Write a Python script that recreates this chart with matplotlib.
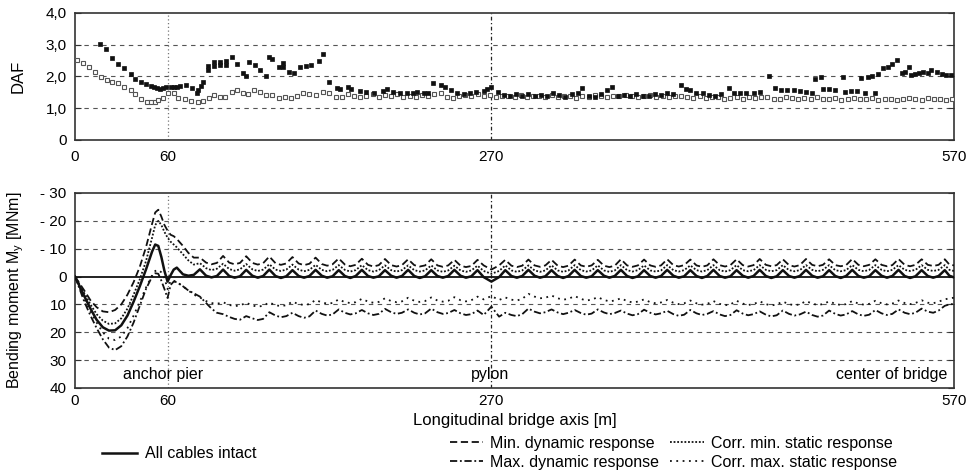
import matplotlib.pyplot as plt

plt.rcParams['font.family'] = ['Liberation Sans', 'DejaVu Sans']
plt.rcParams['mathtext.default'] = 'regular'

# ---- DAF (top panel) ----
daf_dyn_x = [16, 20, 24, 28, 32, 36, 39, 43, 46, 49, 51, 53, 55, 57, 59, 62, 64, 66, 68, 72,
             76, 79, 80, 82, 83, 86, 86, 90, 90, 94, 94, 98, 98, 102, 105, 109, 111, 113, 117, 120,
             124, 126, 128, 132, 135, 135, 139, 142, 146, 150, 153, 158, 161, 165, 170, 172, 177, 179, 185, 189,
             194, 200, 202, 206, 211, 215, 219, 222, 226, 229, 232, 237, 240, 244, 248, 252, 256, 260, 265, 267,
             270, 274, 278, 282, 286, 290, 294, 298, 302, 306, 310, 314, 318, 322, 326, 329, 333, 337, 341, 345,
             348, 352, 356, 360, 364, 368, 372, 376, 380, 384, 388, 393, 396, 399, 403, 407, 411, 415, 419, 424,
             427, 431, 435, 440, 444, 450, 454, 458, 462, 466, 470, 474, 478, 480, 484, 485, 489, 493, 498, 499,
             503, 507, 510, 512, 514, 517, 519, 521, 524, 527, 530, 533, 536, 538, 541, 542, 545, 547, 550, 553,
             555, 559, 562, 565, 568]
daf_dyn = [3.02, 2.86, 2.59, 2.39, 2.26, 2.08, 1.92, 1.82, 1.75, 1.70, 1.66, 1.63, 1.61, 1.63, 1.66, 1.68, 1.68, 1.68, 1.70, 1.73,
           1.63, 1.49, 1.57, 1.70, 1.82, 2.20, 2.33, 2.33, 2.46, 2.35, 2.47, 2.37, 2.48, 2.62, 2.38, 2.10, 2.00, 2.47, 2.36, 2.20,
           2.02, 2.62, 2.54, 2.31, 2.41, 2.29, 2.15, 2.10, 2.29, 2.34, 2.36, 2.50, 2.71, 1.84, 1.63, 1.60, 1.68, 1.60, 1.55, 1.52,
           1.49, 1.55, 1.60, 1.52, 1.47, 1.47, 1.47, 1.52, 1.49, 1.47, 1.80, 1.73, 1.66, 1.57, 1.49, 1.45, 1.49, 1.52, 1.55, 1.60,
           1.68, 1.52, 1.42, 1.40, 1.44, 1.38, 1.45, 1.40, 1.43, 1.37, 1.47, 1.42, 1.36, 1.44, 1.48, 1.63, 1.40, 1.36, 1.45, 1.57,
           1.66, 1.40, 1.43, 1.38, 1.45, 1.40, 1.37, 1.44, 1.42, 1.47, 1.45, 1.73, 1.62, 1.57, 1.48, 1.47, 1.43, 1.40, 1.45, 1.63,
           1.49, 1.47, 1.49, 1.47, 1.52, 2.00, 1.63, 1.57, 1.57, 1.57, 1.55, 1.52, 1.49, 1.91, 1.97, 1.60, 1.60, 1.57, 1.97, 1.52,
           1.55, 1.55, 1.94, 1.49, 1.97, 2.02, 1.47, 2.08, 2.26, 2.31, 2.40, 2.52, 2.10, 2.15, 2.29, 2.05, 2.08, 2.10, 2.15, 2.12,
           2.21, 2.15, 2.08, 2.05, 2.05]

daf_stat_x = [1, 5, 9, 13, 17, 21, 24, 28, 32, 36, 39, 43, 47, 49, 52, 54, 57, 60, 64, 67,
              71, 75, 80, 83, 87, 90, 94, 97, 102, 105, 109, 112, 116, 120, 124, 128, 132, 136, 140, 144,
              148, 152, 156, 161, 165, 169, 173, 177, 181, 185, 189, 193, 197, 201, 205, 209, 213, 217, 221, 225,
              229, 233, 237, 241, 245, 249, 253, 257, 261, 265, 269, 273, 277, 281, 285, 289, 293, 297, 301, 305,
              309, 313, 317, 321, 325, 329, 333, 337, 341, 345, 349, 353, 357, 361, 365, 369, 373, 377, 381, 385,
              389, 393, 397, 401, 405, 409, 413, 417, 421, 425, 429, 433, 437, 441, 445, 449, 453, 457, 461, 465,
              469, 473, 477, 481, 485, 489, 493, 497, 501, 505, 509, 513, 517, 521, 525, 529, 533, 537, 541, 545,
              549, 553, 557, 561, 565, 569]
daf_stat = [2.52, 2.41, 2.29, 2.15, 1.99, 1.89, 1.84, 1.78, 1.68, 1.57, 1.44, 1.28, 1.21, 1.19, 1.21, 1.26, 1.33, 1.49, 1.49, 1.31,
            1.28, 1.24, 1.21, 1.24, 1.31, 1.42, 1.36, 1.36, 1.52, 1.57, 1.47, 1.45, 1.57, 1.50, 1.42, 1.42, 1.31, 1.34, 1.31, 1.40,
            1.47, 1.45, 1.42, 1.52, 1.49, 1.36, 1.34, 1.45, 1.40, 1.36, 1.40, 1.45, 1.34, 1.42, 1.38, 1.45, 1.36, 1.40, 1.34, 1.42,
            1.38, 1.45, 1.47, 1.36, 1.33, 1.40, 1.42, 1.38, 1.45, 1.40, 1.42, 1.36, 1.40, 1.38, 1.36, 1.42, 1.34, 1.40, 1.38, 1.36,
            1.42, 1.35, 1.40, 1.38, 1.33, 1.40, 1.36, 1.42, 1.38, 1.34, 1.40, 1.37, 1.42, 1.40, 1.35, 1.38, 1.42, 1.36, 1.40, 1.34,
            1.38, 1.40, 1.36, 1.33, 1.38, 1.33, 1.36, 1.35, 1.30, 1.33, 1.36, 1.30, 1.34, 1.32, 1.36, 1.34, 1.29, 1.30, 1.34, 1.31,
            1.29, 1.33, 1.30, 1.34, 1.28, 1.30, 1.33, 1.27, 1.30, 1.32, 1.28, 1.30, 1.32, 1.27, 1.28, 1.30, 1.26, 1.30, 1.32, 1.28,
            1.27, 1.31, 1.29, 1.30, 1.27, 1.30]

# ---- bending moment (bottom panel) ----
my_x = [0, 3, 6, 10, 14, 18, 22, 26, 30, 34, 38, 42, 46, 50, 52, 54, 56, 58, 60, 62, 64,
        66, 70, 73.5, 77, 81, 85, 88.5, 92, 96, 100, 103.5, 107, 111, 115, 118.5, 122,
        126, 130, 133.5, 137, 141, 145, 148.5, 152, 156, 160, 163.5, 167, 171, 175, 178.5, 182,
        186, 190, 193.5, 197, 201, 205, 208.5, 212, 216, 220, 223.5, 227, 231, 235, 238.5, 242,
        246, 250, 253.5, 257,
        261, 265, 270, 275,
        279, 283, 286.5, 290, 294, 298, 301.5, 305, 309, 313, 316.5, 320, 324, 328, 331.5, 335,
        339, 343, 346.5, 350, 354, 358, 361.5, 365, 369, 373, 376.5, 380, 384, 388, 391.5, 395,
        399, 403, 406.5, 410, 414, 418, 421.5, 425, 429, 433, 436.5, 440, 444, 448, 451.5, 455,
        459, 463, 466.5, 470, 474, 478, 481.5, 485, 489, 493, 496.5, 500, 504, 508, 511.5, 515,
        519, 523, 526.5, 530, 534, 538, 541.5, 545, 549, 553, 556.5, 560,
        564, 567, 570]

my_intact = [0, 3.5, 7, 11.5, 15.5, 18.2, 19.4, 19.3, 17.5, 14.0, 9.0, 3.5, -2.5, -9.0, -11.5, -11.0, -7.0, -2.0, 1.8, -0.5, -2.5,
             -3.2, -0.8, -0.3, -0.6, -2.6, -0.3, 0.3, -0.2, -2.5, -0.2, 0.4, -0.1, -2.4, -0.3, 0.4, -0.2,
             -2.5, -0.2, 0.5, -0.1, -2.3, -0.2, 0.4, -0.2, -2.4, -0.3, 0.4, -0.1, -2.3, -0.2, 0.5, -0.2,
             -2.4, -0.2, 0.4, -0.1, -2.3, -0.3, 0.4, -0.2, -2.4, -0.2, 0.5, -0.1, -2.3, -0.2, 0.4, -0.2,
             -2.4, -0.3, 0.4, -0.1,
             -2.3, 0.2, 1.8, 0.2,
             -2.3, -0.2, 0.4, -0.2, -2.4, -0.3, 0.4, -0.1, -2.3, -0.2, 0.5, -0.2, -2.4, -0.2, 0.4, -0.1,
             -2.3, -0.3, 0.4, -0.2, -2.4, -0.2, 0.5, -0.1, -2.3, -0.2, 0.4, -0.2, -2.4, -0.3, 0.4, -0.1,
             -2.3, -0.2, 0.5, -0.2, -2.4, -0.2, 0.4, -0.1, -2.3, -0.3, 0.4, -0.2, -2.4, -0.2, 0.5, -0.1,
             -2.3, -0.2, 0.4, -0.2, -2.4, -0.3, 0.4, -0.1, -2.3, -0.2, 0.5, -0.2, -2.4, -0.2, 0.4, -0.1,
             -2.3, -0.3, 0.4, -0.2, -2.4, -0.2, 0.5, -0.1, -2.3, -0.2, 0.4, -0.2,
             -2.3, -0.3, 0.3]

my_min_dyn = [0, 2.5, 5.0, 8.5, 11.0, 12.5, 12.8, 12.0, 10.0, 6.5, 2.0, -3.5, -10.5, -19.0, -23.0, -24.0, -21.5, -18.5, -16.5, -15.0, -14.5,
              -13.5, -11.0, -8.5, -6.8, -6.8, -5.0, -4.4, -4.9, -7.4, -5.0, -4.4, -4.9, -7.3, -4.9, -4.3, -4.8,
              -7.2, -4.8, -4.2, -4.7, -7.0, -4.7, -4.1, -4.6, -6.8, -4.5, -3.9, -4.4, -6.5, -4.3, -3.7, -4.2,
              -6.4, -4.2, -3.6, -4.1, -6.3, -4.1, -3.6, -4.1, -6.2, -4.1, -3.6, -4.0, -6.2, -4.0, -3.5, -4.0,
              -6.0, -3.9, -3.4, -3.8,
              -6.0, -4.0, -2.5, -4.0,
              -6.0, -3.9, -3.4, -3.9, -6.1, -4.0, -3.5, -4.0, -6.0, -3.9, -3.4, -3.9, -6.1, -4.0, -3.5, -4.0,
              -6.0, -3.9, -3.4, -3.9, -6.2, -4.0, -3.5, -4.0, -6.1, -4.0, -3.5, -4.0, -6.2, -4.1, -3.6, -4.1,
              -6.1, -4.0, -3.5, -4.0, -6.2, -4.1, -3.6, -4.1, -6.2, -4.1, -3.6, -4.1, -6.3, -4.2, -3.7, -4.1,
              -6.2, -4.1, -3.6, -4.1, -6.3, -4.2, -3.7, -4.2, -6.2, -4.1, -3.7, -4.1, -6.3, -4.2, -3.7, -4.2,
              -6.2, -4.2, -3.7, -4.1, -6.3, -4.2, -3.7, -4.2, -6.2, -4.2, -3.8, -4.2,
              -6.2, -4.3, -4.0]

my_corr_min = [0, 3.0, 6.0, 10.0, 13.5, 15.8, 17.0, 16.8, 15.0, 11.5, 6.5, 1.0, -5.5, -14.0, -18.5, -20.0, -18.5, -16.0, -14.0, -12.5, -11.5,
               -10.5, -8.0, -5.8, -4.3, -4.8, -3.0, -2.3, -2.8, -4.6, -2.7, -2.1, -2.6, -4.5, -2.6, -2.0, -2.5,
               -4.4, -2.5, -2.0, -2.5, -4.3, -2.5, -1.9, -2.4, -4.2, -2.4, -1.9, -2.4, -4.1, -2.4, -1.8, -2.3,
               -4.1, -2.3, -1.8, -2.3, -4.0, -2.3, -1.8, -2.3, -4.0, -2.3, -1.8, -2.2, -4.0, -2.2, -1.7, -2.2,
               -3.9, -2.2, -1.7, -2.2,
               -3.9, -2.0, -1.0, -2.0,
               -4.0, -2.2, -1.7, -2.2, -4.0, -2.2, -1.7, -2.2, -4.0, -2.2, -1.7, -2.2, -4.1, -2.3, -1.8, -2.2,
               -4.0, -2.2, -1.7, -2.2, -4.1, -2.3, -1.8, -2.3, -4.0, -2.2, -1.8, -2.2, -4.1, -2.3, -1.8, -2.3,
               -4.0, -2.3, -1.8, -2.3, -4.1, -2.3, -1.8, -2.3, -4.1, -2.3, -1.9, -2.3, -4.1, -2.4, -1.9, -2.3,
               -4.1, -2.3, -1.9, -2.3, -4.1, -2.4, -1.9, -2.4, -4.1, -2.3, -1.9, -2.3, -4.1, -2.4, -1.9, -2.4,
               -4.1, -2.4, -1.9, -2.4, -4.1, -2.4, -2.0, -2.4, -4.1, -2.4, -2.0, -2.4,
               -4.1, -2.4, -2.0]

my_corr_max = [0, 4.0, 8.0, 12.5, 16.5, 20.0, 22.3, 22.8, 21.5, 18.5, 14.0, 9.0, 4.0, -0.5, -2.0, -2.4, -1.5, 0.5, 4.5, 1.5, 1.5,
               2.0, 3.5, 5.0, 6.5, 7.5, 8.8, 9.5, 9.8, 9.2, 10.2, 10.6, 10.4, 9.4, 10.4, 10.8, 10.5,
               9.3, 10.3, 10.6, 10.3, 9.0, 9.9, 10.2, 9.9, 8.4, 9.3, 9.7, 9.5, 8.2, 9.2, 9.5, 9.2,
               8.0, 9.0, 9.4, 9.1, 7.8, 8.8, 9.2, 8.9, 7.6, 8.7, 9.1, 8.8, 7.5, 8.6, 9.0, 8.7,
               7.4, 8.5, 8.9, 8.5,
               7.2, 8.2, 7.0, 8.4,
               7.5, 8.3, 8.6, 8.0, 6.2, 7.2, 7.8, 7.6, 6.8, 7.8, 8.3, 8.0, 7.0, 8.0, 8.6, 8.3,
               7.4, 8.4, 8.9, 8.6, 7.8, 8.8, 9.3, 9.0, 8.2, 9.2, 9.6, 9.3, 8.4, 9.4, 9.9, 9.6,
               8.6, 9.6, 10.1, 9.8, 8.8, 9.8, 10.3, 10.0, 8.7, 9.7, 10.2, 9.9, 8.9, 9.9, 10.4, 10.0,
               9.0, 9.9, 10.3, 10.0, 8.8, 9.7, 10.2, 9.9, 8.9, 9.8, 10.2, 9.9, 8.8, 9.7, 10.1, 9.8,
               8.7, 9.6, 10.0, 9.7, 8.6, 9.5, 9.9, 9.5, 8.5, 9.4, 9.6, 9.0,
               8.2, 7.8, 7.6]

my_max_dyn = [0, 4.5, 9.0, 14.0, 18.5, 22.5, 25.5, 26.4, 25.0, 21.5, 16.5, 10.5, 4.5, 0.0, -1.2, -1.0, 1.5, 4.5, 7.7, 3.0, 1.8,
              2.0, 3.5, 5.0, 6.0, 7.2, 9.5, 11.5, 13.0, 13.5, 14.5, 15.2, 15.5, 14.2, 15.0, 15.6, 15.2,
              12.8, 14.0, 14.6, 14.2, 13.0, 14.2, 14.8, 14.3, 12.2, 13.4, 14.0, 13.6, 11.8, 13.0, 13.6, 13.2,
              12.0, 13.2, 13.8, 13.4, 11.6, 12.8, 13.4, 13.0, 11.8, 13.0, 13.6, 13.2, 11.5, 12.8, 13.4, 13.1,
              12.0, 13.2, 13.8, 13.5,
              12.2, 13.8, 10.8, 14.4,
              13.0, 13.8, 14.2, 13.5, 11.5, 12.6, 13.2, 12.8, 11.8, 12.9, 13.5, 13.0, 12.0, 13.1, 13.7, 13.3,
              11.8, 12.9, 13.5, 13.1, 12.2, 13.3, 13.9, 13.5, 11.9, 13.0, 13.6, 13.2, 12.3, 13.5, 14.1, 13.7,
              12.0, 13.2, 13.8, 13.4, 12.4, 13.6, 14.2, 13.8, 12.1, 13.3, 13.9, 13.5, 12.5, 13.7, 14.3, 13.9,
              12.2, 13.4, 14.0, 13.6, 12.6, 13.8, 14.4, 14.0, 12.2, 13.4, 14.0, 13.6, 12.4, 13.6, 14.1, 13.7,
              12.0, 13.2, 13.8, 13.4, 11.8, 13.0, 13.5, 13.0, 11.5, 12.6, 13.0, 12.2,
              10.5, 10.0, 9.8]

x_ticks = [0, 60, 270, 570]
daf_ticks = [0, 1, 2, 3, 4]
daf_labels = ['0', '1,0', '2,0', '3,0', '4,0']
my_ticks = [-30, -20, -10, 0, 10, 20, 30, 40]
my_labels = ['- 30', '- 20', '- 10', '0', '10', '20', '30', '40']

grid_col = '#555555'
spine_col = '#333333'

fig = plt.figure(figsize=(9.73, 4.75), dpi=100)
ax1 = fig.add_axes([0.0771, 0.7053, 0.9034, 0.2674])
ax2 = fig.add_axes([0.0771, 0.1832, 0.9034, 0.4105])

# top panel
for v in [1, 2, 3]:
    ax1.axhline(v, color=grid_col, lw=0.8, ls=(0, (4, 4)), zorder=1)
ax1.axvline(60, color='#777777', lw=0.9, ls=(0, (1, 2)), zorder=1)
ax1.axvline(270, color='#222222', lw=0.9, ls=(0, (3, 2, 1, 2)), zorder=1)
ax1.plot(daf_stat_x, daf_stat, ls='none', marker='s', ms=3.5, mfc='white', mec='#555555', mew=0.8, zorder=3)
ax1.plot(daf_dyn_x, daf_dyn, ls='none', marker='s', ms=3.3, mfc='#111111', mec='#111111', mew=0.5, zorder=4)
ax1.set_xlim(0, 570)
ax1.set_ylim(0, 4)
ax1.set_xticks(x_ticks)
ax1.set_xticklabels([str(t) for t in x_ticks])
ax1.set_yticks(daf_ticks)
ax1.set_yticklabels(daf_labels)
ax1.tick_params(axis='x', length=0, pad=7, labelsize=11)
ax1.tick_params(axis='y', direction='in', length=4, right=True, labelsize=11, pad=6, color=spine_col)
ax1.set_ylabel('DAF', fontsize=12)
ax1.yaxis.set_label_coords(-0.056, 0.5)

# bottom panel
for v in [-20, -10, 10, 20, 30]:
    ax2.axhline(v, color=grid_col, lw=0.8, ls=(0, (4, 4)), zorder=1)
ax2.axhline(0, color='#111111', lw=1.3, zorder=2)
ax2.axvline(60, color='#777777', lw=0.9, ls=(0, (1, 2)), zorder=1)
ax2.axvline(270, color='#222222', lw=0.9, ls=(0, (3, 2, 1, 2)), zorder=1)

ax2.plot(my_x, my_min_dyn, color='#111111', lw=1.3, ls=(0, (4, 2)), label='Min. dynamic response', zorder=3)
ax2.plot(my_x, my_max_dyn, color='#111111', lw=1.3, ls=(0, (4, 1.5, 1, 1.5)), label='Max. dynamic response', zorder=3)
ax2.plot(my_x, my_corr_min, color='#111111', lw=1.3, ls=(0, (1, 1)), label='Corr. min. static response', zorder=3)
ax2.plot(my_x, my_corr_max, color='#111111', lw=1.3, ls=(0, (1, 2.5)), label='Corr. max. static response', zorder=3)
ax2.plot(my_x, my_intact, color='#111111', lw=1.8, ls='-', label='All cables intact', zorder=4)

ax2.set_xlim(0, 570)
ax2.set_ylim(40, -30)
ax2.set_xticks(x_ticks)
ax2.set_xticklabels([str(t) for t in x_ticks])
ax2.set_yticks(my_ticks)
ax2.set_yticklabels(my_labels)
ax2.tick_params(axis='x', length=0, pad=4, labelsize=11)
ax2.tick_params(axis='y', direction='in', length=4, right=True, labelsize=11, pad=6, color=spine_col)
ax2.set_ylabel('Bending moment M$_y$ [MNm]', fontsize=11.5)
ax2.yaxis.set_label_coords(-0.056, 0.5)
ax2.set_xlabel('Longitudinal bridge axis [m]', fontsize=12, labelpad=4)

ax2.text(57, 35, 'anchor pier', ha='center', va='center', fontsize=11.5)
ax2.text(269, 35, 'pylon', ha='center', va='center', fontsize=11.5)
ax2.text(566, 35, 'center of bridge', ha='right', va='center', fontsize=11.5)

for ax in (ax1, ax2):
    for s in ax.spines.values():
        s.set_color(spine_col)
        s.set_linewidth(1.2)

h, l = ax2.get_legend_handles_labels()
leg1 = fig.legend([h[4]], [l[4]], loc='center left', bbox_to_anchor=(0.105, 1 - 454 / 475),
                  frameon=False, fontsize=11.5, handlelength=2.2, handletextpad=0.5,
                  borderpad=0, borderaxespad=0)
leg2 = fig.legend(h[:4], l[:4], loc='upper left', bbox_to_anchor=(0.462, 1 - 436 / 475), ncol=2,
                  frameon=False, fontsize=11.5, handlelength=2.1, handletextpad=0.45,
                  columnspacing=0.7, labelspacing=0.25, borderpad=0, borderaxespad=0)

fig.savefig('out.png', dpi=100)
